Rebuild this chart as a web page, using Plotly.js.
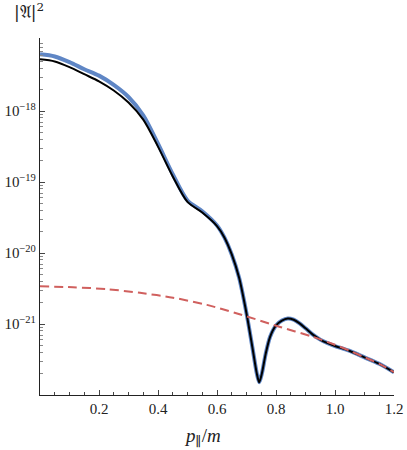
<!DOCTYPE html>
<html>
<head>
<meta charset="utf-8">
<script src="https://cdn.plot.ly/plotly-3.0.1.min.js"></script>
<style>
  html, body { margin: 0; padding: 0; background: #fff; }
  #chart { width: 407px; height: 450px; }
</style>
</head>
<body>
<div id="chart"></div>
<script>
// momentum p_par/m
var pVals = [0, 0.05, 0.10, 0.15, 0.20, 0.25, 0.30, 0.35, 0.40, 0.45, 0.50, 0.55, 0.60, 0.625,
  0.65, 0.675, 0.70, 0.72, 0.735, 0.743, 0.752, 0.765, 0.78, 0.80, 0.82, 0.84, 0.86, 0.88,
  0.90, 0.925, 0.95, 0.975, 1.00, 1.05, 1.10, 1.15, 1.20];
// approximate |A|^2 (black)
var ampApprox = [5.37e-18, 5.01e-18, 4.17e-18, 3.31e-18, 2.63e-18, 1.95e-18, 1.32e-18, 7.59e-19, 3.16e-19, 1.20e-19, 5.25e-20, 3.72e-20, 2.40e-20, 1.66e-20,
  9.55e-21, 4.47e-21, 1.41e-21, 4.68e-22, 2.00e-22, 1.51e-22, 2.00e-22, 3.80e-22, 6.61e-22, 9.55e-22, 1.12e-21, 1.20e-21, 1.15e-21, 1.02e-21,
  8.71e-22, 7.08e-22, 6.03e-22, 5.37e-22, 4.90e-22, 4.17e-22, 3.39e-22, 2.75e-22, 2.09e-22];
// exact |A|^2 (blue)
var ampExact = [6.31e-18, 5.89e-18, 4.90e-18, 3.89e-18, 3.16e-18, 2.34e-18, 1.58e-18, 8.71e-19, 3.47e-19, 1.29e-19, 5.50e-20, 3.89e-20, 2.45e-20, 1.66e-20,
  9.55e-21, 4.47e-21, 1.41e-21, 4.68e-22, 2.00e-22, 1.51e-22, 2.00e-22, 3.80e-22, 6.61e-22, 9.55e-22, 1.12e-21, 1.20e-21, 1.15e-21, 1.02e-21,
  8.71e-22, 7.08e-22, 6.03e-22, 5.37e-22, 4.90e-22, 4.17e-22, 3.39e-22, 2.75e-22, 2.09e-22];
// red dashed envelope
var pRed = [0, 0.112, 0.227, 0.339, 0.451, 0.566, 0.668, 0.814, 0.925, 1.00, 1.05, 1.10, 1.15, 1.2];
var ampRed = [3.4e-21, 3.3e-21, 3.1e-21, 2.75e-21, 2.35e-21, 1.86e-21, 1.41e-21, 9.1e-22, 6.6e-22, 5.1e-22, 4.2e-22, 3.4e-22, 2.75e-22, 2.1e-22];

var majorY = [1e-21, 1e-20, 1e-19, 1e-18];
var majorYText = ['10<sup>\u221221</sup>', '10<sup>\u221220</sup>', '10<sup>\u221219</sup>', '10<sup>\u221218</sup>'];
var xTicks = [0.2, 0.4, 0.6, 0.8, 1.0, 1.2];
var xTickText = ['0.2', '0.4', '0.6', '0.8', '1.0', '1.2'];

var minorY = [];
for (var e = -22; e <= -17; e++) {
  for (var d = 2; d <= 9; d++) {
    var v = d * Math.pow(10, e);
    if (v < 1.07e-17) minorY.push(v);
  }
}

var serif = '"Liberation Serif", "DejaVu Serif", serif';

var data = [
  {x: pVals, y: ampExact, mode: 'lines', line: {color: '#5f86c5', width: 4, shape: 'spline', smoothing: 0.8}, hoverinfo: 'skip'},
  {x: pVals, y: ampApprox, mode: 'lines', line: {color: '#000000', width: 2, shape: 'spline', smoothing: 0.8}, hoverinfo: 'skip'},
  {x: pRed, y: ampRed, mode: 'lines', line: {color: '#d0605e', width: 2, dash: '9px,5px', shape: 'spline', smoothing: 0.8}, hoverinfo: 'skip'}
];

var layout = {
  width: 407,
  height: 450,
  margin: {l: 40, r: 13, t: 38, b: 55},
  showlegend: false,
  paper_bgcolor: '#fff',
  plot_bgcolor: '#fff',
  font: {family: serif, size: 15, color: '#222'},
  xaxis: {
    range: [0, 1.2],
    showgrid: false,
    zeroline: false,
    showline: true,
    linecolor: '#222',
    linewidth: 1.2,
    ticks: 'inside',
    ticklen: 5,
    tickcolor: '#444',
    tickvals: xTicks,
    ticktext: xTickText,
    minor: {dtick: 0.05, tick0: 0, ticks: 'inside', ticklen: 3, tickcolor: '#444', showgrid: false}
  },
  yaxis: {
    type: 'log',
    range: [-22, -16.97],
    showgrid: false,
    zeroline: false,
    showline: true,
    linecolor: '#222',
    linewidth: 1.2,
    ticks: 'inside',
    ticklen: 5,
    tickcolor: '#444',
    tickvals: majorY,
    ticktext: majorYText,
    minor: {tickvals: minorY, ticks: 'inside', ticklen: 3, tickcolor: '#888', showgrid: false}
  },
  annotations: [{
    xref: 'paper', yref: 'paper', x: -0.03, y: 1.075, xanchor: 'center', yanchor: 'middle',
    text: '|\uD835\uDD04|<sup>2</sup>', showarrow: false,
    font: {family: '"DejaVu Serif", serif', size: 17, color: '#222'}
  }, {
    xref: 'paper', yref: 'paper', x: 0.46, y: -0.118, xanchor: 'center', yanchor: 'middle',
    text: '<i>p</i><sub>\u2225</sub>/<i>m</i>', showarrow: false,
    font: {family: serif, size: 19, color: '#222'}
  }]
};

Plotly.newPlot('chart', data, layout, {staticPlot: true});
</script>
</body>
</html>
